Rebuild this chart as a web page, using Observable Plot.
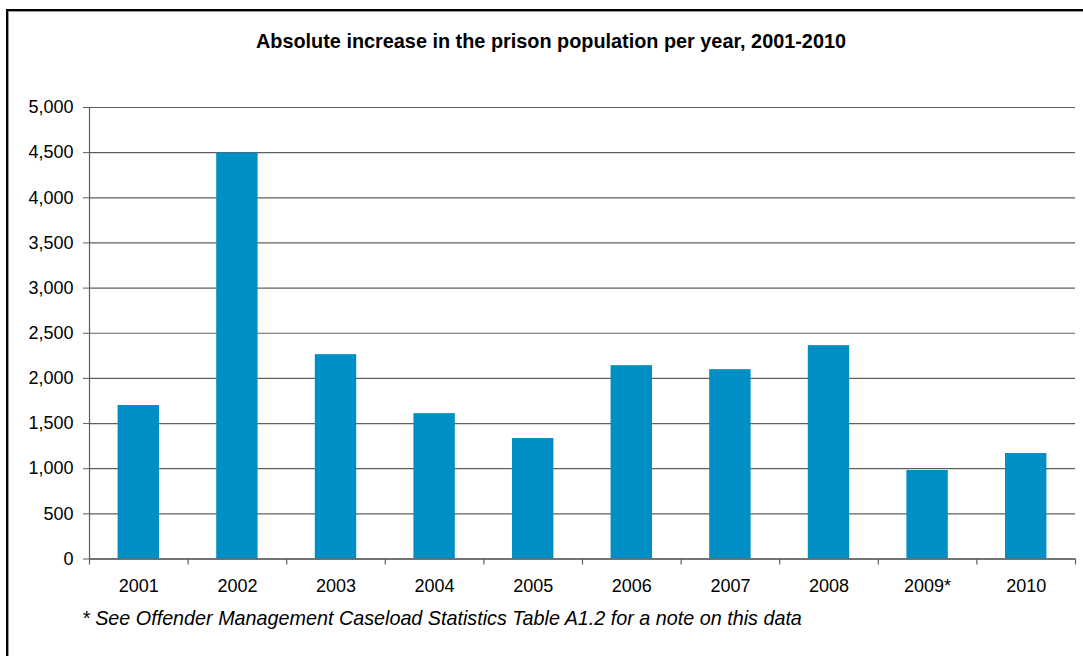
<!DOCTYPE html>
<html>
<head>
<meta charset="utf-8">
<script src="https://cdn.jsdelivr.net/npm/d3@7"></script>
<script src="https://cdn.jsdelivr.net/npm/@observablehq/plot@0.6"></script>
<style>
  html, body { margin: 0; padding: 0; background: #fff; }
  #wrap { position: relative; width: 1083px; height: 656px; overflow: hidden; background: #fff; font-family: "Liberation Sans", Arial, sans-serif; }
  #border { position: absolute; left: 6px; top: 9px; width: 1200px; height: 800px; border-top: 2px solid #000; border-left: 2px solid #000; box-shadow: inset 1px 1px 0 #999; }
  #title { position: absolute; left: 0; width: 1102px; top: 32px; text-align: center; font-weight: bold; font-size: 19.85px; line-height: 1; color: #000; white-space: nowrap; }
  #note { position: absolute; left: 82px; top: 609px; font-style: italic; font-size: 19.75px; line-height: 1; color: #000; white-space: nowrap; }
  #chart { position: absolute; left: 0; top: 0; }
</style>
</head>
<body>
<div id="wrap">
  <div id="border"></div>
  <div id="chart"></div>
  <div id="title">Absolute increase in the prison population per year, 2001-2010</div>
  <div id="note">* See Offender Management Caseload Statistics Table A1.2 for a note on this data</div>
</div>
<script>
const years = ["2001", "2002", "2003", "2004", "2005", "2006", "2007", "2008", "2009*", "2010"];
const increases = [1700, 4495, 2263, 1610, 1334, 2141, 2097, 2363, 980, 1168];
const yTicks = [0, 500, 1000, 1500, 2000, 2500, 3000, 3500, 4000, 4500, 5000];

const data = years.map((year, i) => ({year, value: increases[i]}));

const W = 1083, H = 600;
const mL = 89, mR = 8, mT = 107, mB = 41.5;
const step = (W - mL - mR) / years.length;
const gridColor = "#5f5f5f";
const font = "Liberation Sans, Arial, sans-serif";

const chart = Plot.plot({
  width: W,
  height: H,
  marginLeft: mL,
  marginRight: mR,
  marginTop: mT,
  marginBottom: mB,
  style: {fontFamily: font, fontSize: "18px", color: "#000", background: "transparent", overflow: "visible"},
  x: {domain: years, paddingInner: 0.58, paddingOuter: 0.29, round: false, label: null},
  y: {domain: [0, 5000], label: null},
  marks: [
    Plot.gridY(yTicks, {stroke: gridColor, strokeOpacity: 1, strokeWidth: 1.2}),
    Plot.barY(data, {x: "year", y: "value", fill: "#008fc4"}),
    Plot.ruleX(years.slice(0, 1), {x: d => d, stroke: gridColor, strokeWidth: 1.2, dx: -step * 0.5, y1: 0, y2: 5000}),
    Plot.ruleX(years, {x: d => d, y1: 0, y2: 0, dx: -step * 0.5, insetBottom: -6, stroke: gridColor, strokeWidth: 1.2}),
    Plot.ruleX(years.slice(-1), {x: d => d, y1: 0, y2: 0, dx: step * 0.5, insetBottom: -6, stroke: gridColor, strokeWidth: 1.2}),
    Plot.ruleY([0], {stroke: gridColor, strokeWidth: 1.4}),
    Plot.axisY(yTicks, {tickSize: 6, tickPadding: 10, stroke: gridColor, tickFormat: d3.format(","), fontSize: 18, label: null}),
    Plot.axisX({tickSize: 0, tickPadding: 20, fontSize: 18, label: null})
  ]
});
document.getElementById("chart").appendChild(chart);
</script>
</body>
</html>
